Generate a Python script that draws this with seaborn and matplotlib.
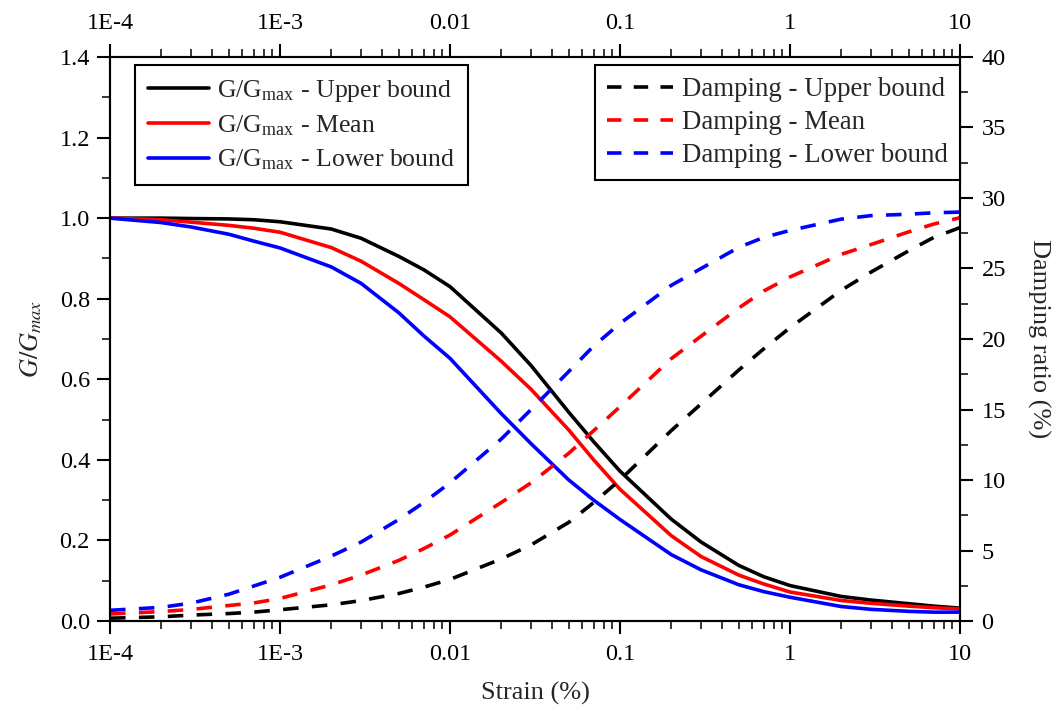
import numpy as np
import pandas as pd
import matplotlib
matplotlib.use("Agg")
import matplotlib.pyplot as plt
import seaborn as sns
from matplotlib.lines import Line2D
from matplotlib.ticker import FixedLocator, NullFormatter

# ---------------- data ----------------
strain = [1e-4, 2e-4, 3e-4, 5e-4, 7e-4, 1e-3, 2e-3, 3e-3, 5e-3, 7e-3,
          0.01, 0.02, 0.03, 0.05, 0.07, 0.1, 0.2, 0.3, 0.5, 0.7,
          1, 2, 3, 5, 7, 10]

g_upper = [1.000, 1.000, 0.999, 0.998, 0.996, 0.991, 0.973, 0.950, 0.905, 0.872,
           0.830, 0.715, 0.634, 0.518, 0.445, 0.372, 0.253, 0.196, 0.138, 0.110,
           0.088, 0.061, 0.052, 0.043, 0.037, 0.032]
g_mean = [1.000, 0.996, 0.990, 0.982, 0.975, 0.965, 0.927, 0.893, 0.838, 0.798,
          0.755, 0.645, 0.575, 0.474, 0.400, 0.327, 0.212, 0.160, 0.114, 0.092,
          0.072, 0.051, 0.044, 0.037, 0.033, 0.030]
g_lower = [1.000, 0.989, 0.978, 0.960, 0.943, 0.926, 0.879, 0.838, 0.765, 0.708,
           0.652, 0.515, 0.440, 0.350, 0.300, 0.252, 0.165, 0.127, 0.090, 0.073,
           0.059, 0.036, 0.029, 0.024, 0.022, 0.022]

d_upper = [0.2, 0.3, 0.42, 0.53, 0.63, 0.8, 1.15, 1.45, 1.95, 2.4,
           2.95, 4.4, 5.4, 7.0, 8.4, 10.0, 13.5, 15.4, 17.8, 19.3,
           20.8, 23.45, 24.75, 26.26, 27.2, 27.9]
d_mean = [0.5, 0.67, 0.82, 1.1, 1.28, 1.6, 2.56, 3.26, 4.3, 5.13,
          6.1, 8.4, 9.8, 11.9, 13.5, 15.2, 18.6, 20.2, 22.2, 23.4,
          24.4, 26.0, 26.7, 27.6, 28.15, 28.6]
d_lower = [0.76, 0.97, 1.27, 1.9, 2.48, 3.1, 4.6, 5.6, 7.2, 8.4,
           9.8, 12.9, 15.0, 17.7, 19.5, 21.1, 23.8, 25.0, 26.5, 27.2,
           27.7, 28.5, 28.75, 28.85, 28.95, 29.0]

x_ticks = [1e-4, 1e-3, 1e-2, 1e-1, 1, 10]
x_ticklabels = ["1E-4", "1E-3", "0.01", "0.1", "1", "10"]
g_ticks = [0.0, 0.2, 0.4, 0.6, 0.8, 1.0, 1.2, 1.4]
d_ticks = [0, 5, 10, 15, 20, 25, 30, 35, 40]

g_labels = [r"G/G$_{\mathregular{max}}$ - Upper bound",
            r"G/G$_{\mathregular{max}}$ - Mean",
            r"G/G$_{\mathregular{max}}$ - Lower bound"]
d_labels = ["Damping - Upper bound", "Damping - Mean", "Damping - Lower bound"]
colors = ["#000000", "#ff0000", "#0000ff"]

# ---------------- style ----------------
sns.set_theme(style="ticks")
plt.rcParams["font.family"] = ["Liberation Serif", "DejaVu Serif"]
plt.rcParams["mathtext.fontset"] = "stix"
plt.rcParams["axes.linewidth"] = 1.5

fig = plt.figure(figsize=(10.59, 7.13), dpi=100)
fig.patch.set_facecolor("white")
ax = fig.add_axes([0.1039, 0.1290, 0.8026, 0.7911])
ax.set_xscale("log")
ax2 = ax.twinx()

lw = 2.6
dash = (0, (4.3, 3.7))

gdf = pd.DataFrame({"strain": strain, "upper": g_upper, "mean": g_mean, "lower": g_lower})
ddf = pd.DataFrame({"strain": strain, "upper": d_upper, "mean": d_mean, "lower": d_lower})

for col, c in zip(["upper", "mean", "lower"], colors):
    sns.lineplot(data=gdf, x="strain", y=col, ax=ax, color=c, linewidth=lw)
for col, c in zip(["upper", "mean", "lower"], colors):
    sns.lineplot(data=ddf, x="strain", y=col, ax=ax2, color=c, linewidth=lw,
                 linestyle=dash)

ax.set_xlim(1e-4, 10)
ax.set_ylim(0, 1.4)
ax2.set_ylim(0, 40)

ax.set_xticks(x_ticks)
ax.set_xticklabels(x_ticklabels)
ax.xaxis.set_minor_locator(FixedLocator(
    [m * 10.0 ** e for e in range(-4, 1) for m in range(2, 10)]))
ax.xaxis.set_minor_formatter(NullFormatter())

ax.set_yticks(g_ticks)
ax.set_yticklabels([f"{v:.1f}" for v in g_ticks])
ax.yaxis.set_minor_locator(FixedLocator(np.arange(0.1, 1.4, 0.2)))
ax2.set_yticks(d_ticks)
ax2.set_yticklabels([str(v) for v in d_ticks])
ax2.yaxis.set_minor_locator(FixedLocator(np.arange(2.5, 40, 5)))

tick_fs = 17.5
for a in (ax, ax2):
    a.tick_params(which="major", direction="out", length=9.5, width=1.5,
                  labelsize=tick_fs, colors="black", pad=5)
    a.tick_params(which="minor", direction="out", length=5.5, width=1.3)
ax.tick_params(axis="x", which="both", top=True, labeltop=True, bottom=True)
ax.tick_params(axis="x", which="major", pad=7)
ax2.tick_params(axis="y", which="both", right=True, left=False)
ax2.tick_params(axis="y", which="major", pad=6)

ax.set_xlabel("Strain (%)", fontsize=19, labelpad=12)
ax.set_ylabel(r"$G/G_{max}$", fontsize=19, labelpad=11)
ax2.set_ylabel("Damping ratio (%)", fontsize=19, rotation=-90, labelpad=32)

for a in (ax, ax2):
    for s in a.spines.values():
        s.set_visible(True)
        s.set_linewidth(1.5)
        s.set_color("black")

# ---------------- legends ----------------
g_handles = [Line2D([], [], color=c, linewidth=lw) for c in colors]
d_handles = [Line2D([], [], color=c, linewidth=lw, linestyle=(0, (4, 3.4)))
             for c in colors]

leg1 = ax2.legend(g_handles, g_labels, loc="upper left",
                  bbox_to_anchor=(0.029, 0.986), borderaxespad=0,
                  fontsize=18.5, handlelength=2.4, handletextpad=0.3,
                  labelspacing=0.38, borderpad=0.5, fancybox=False,
                  edgecolor="black", framealpha=1)
leg1.get_frame().set_linewidth(1.5)
ax2.add_artist(leg1)
leg2 = ax2.legend(d_handles, d_labels, loc="upper right",
                  bbox_to_anchor=(1.0, 0.986), borderaxespad=0,
                  fontsize=19.4, handlelength=2.45, handletextpad=0.32,
                  labelspacing=0.3, borderpad=0.45, fancybox=False,
                  edgecolor="black", framealpha=1)
leg2.get_frame().set_linewidth(1.5)

fig.savefig("out.png", dpi=100, facecolor="white")
